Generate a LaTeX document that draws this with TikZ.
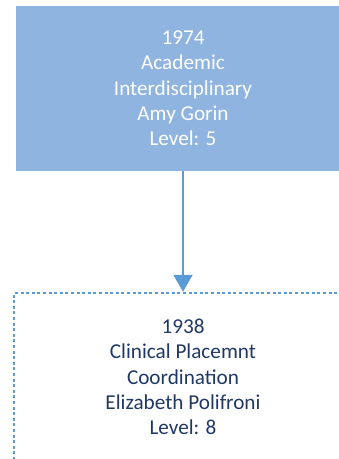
\documentclass[tikz,border=0pt]{standalone}
\usepackage{fontspec}
\setmainfont{Carlito}
\usetikzlibrary{arrows.meta,positioning}
\definecolor{unitfill}{HTML}{8FB4E0}
\definecolor{unitline}{HTML}{5B9BD5}
\definecolor{unittext}{HTML}{203864}
\tikzset{>=Stealth}

\begin{document}
\begin{tikzpicture}[
    x=1pt, y=1pt,
    unit/.style={align=center, inner sep=0pt, font=\fontsize{21.2}{25.3}\selectfont},
    parentunit/.style={unit, fill=unitfill, text=white, minimum width=334pt, minimum height=165pt},
    childunit/.style={unit, draw=unitline, line width=2.4pt, dash pattern=on 3pt off 2.6pt, text=unittext, minimum width=338pt, minimum height=168pt},
    >={Triangle[width=19pt,length=17pt]}
  ]
    \useasboundingbox (0,0) rectangle (339,459);
    \clip (0,0) rectangle (339,459);
    \node[parentunit] (academic) at (183,370.5) {1974\\Academic\\Interdisciplinary\\Amy Gorin\\Level: 5};
    \node[childunit] (clinical) at (183,82) {1938\\Clinical Placemnt\\Coordination\\Elizabeth Polifroni\\Level: 8};
    \draw[->, draw=unitline, fill=unitline, line width=2pt] (academic) -- (clinical);
  \end{tikzpicture}
\end{document}
